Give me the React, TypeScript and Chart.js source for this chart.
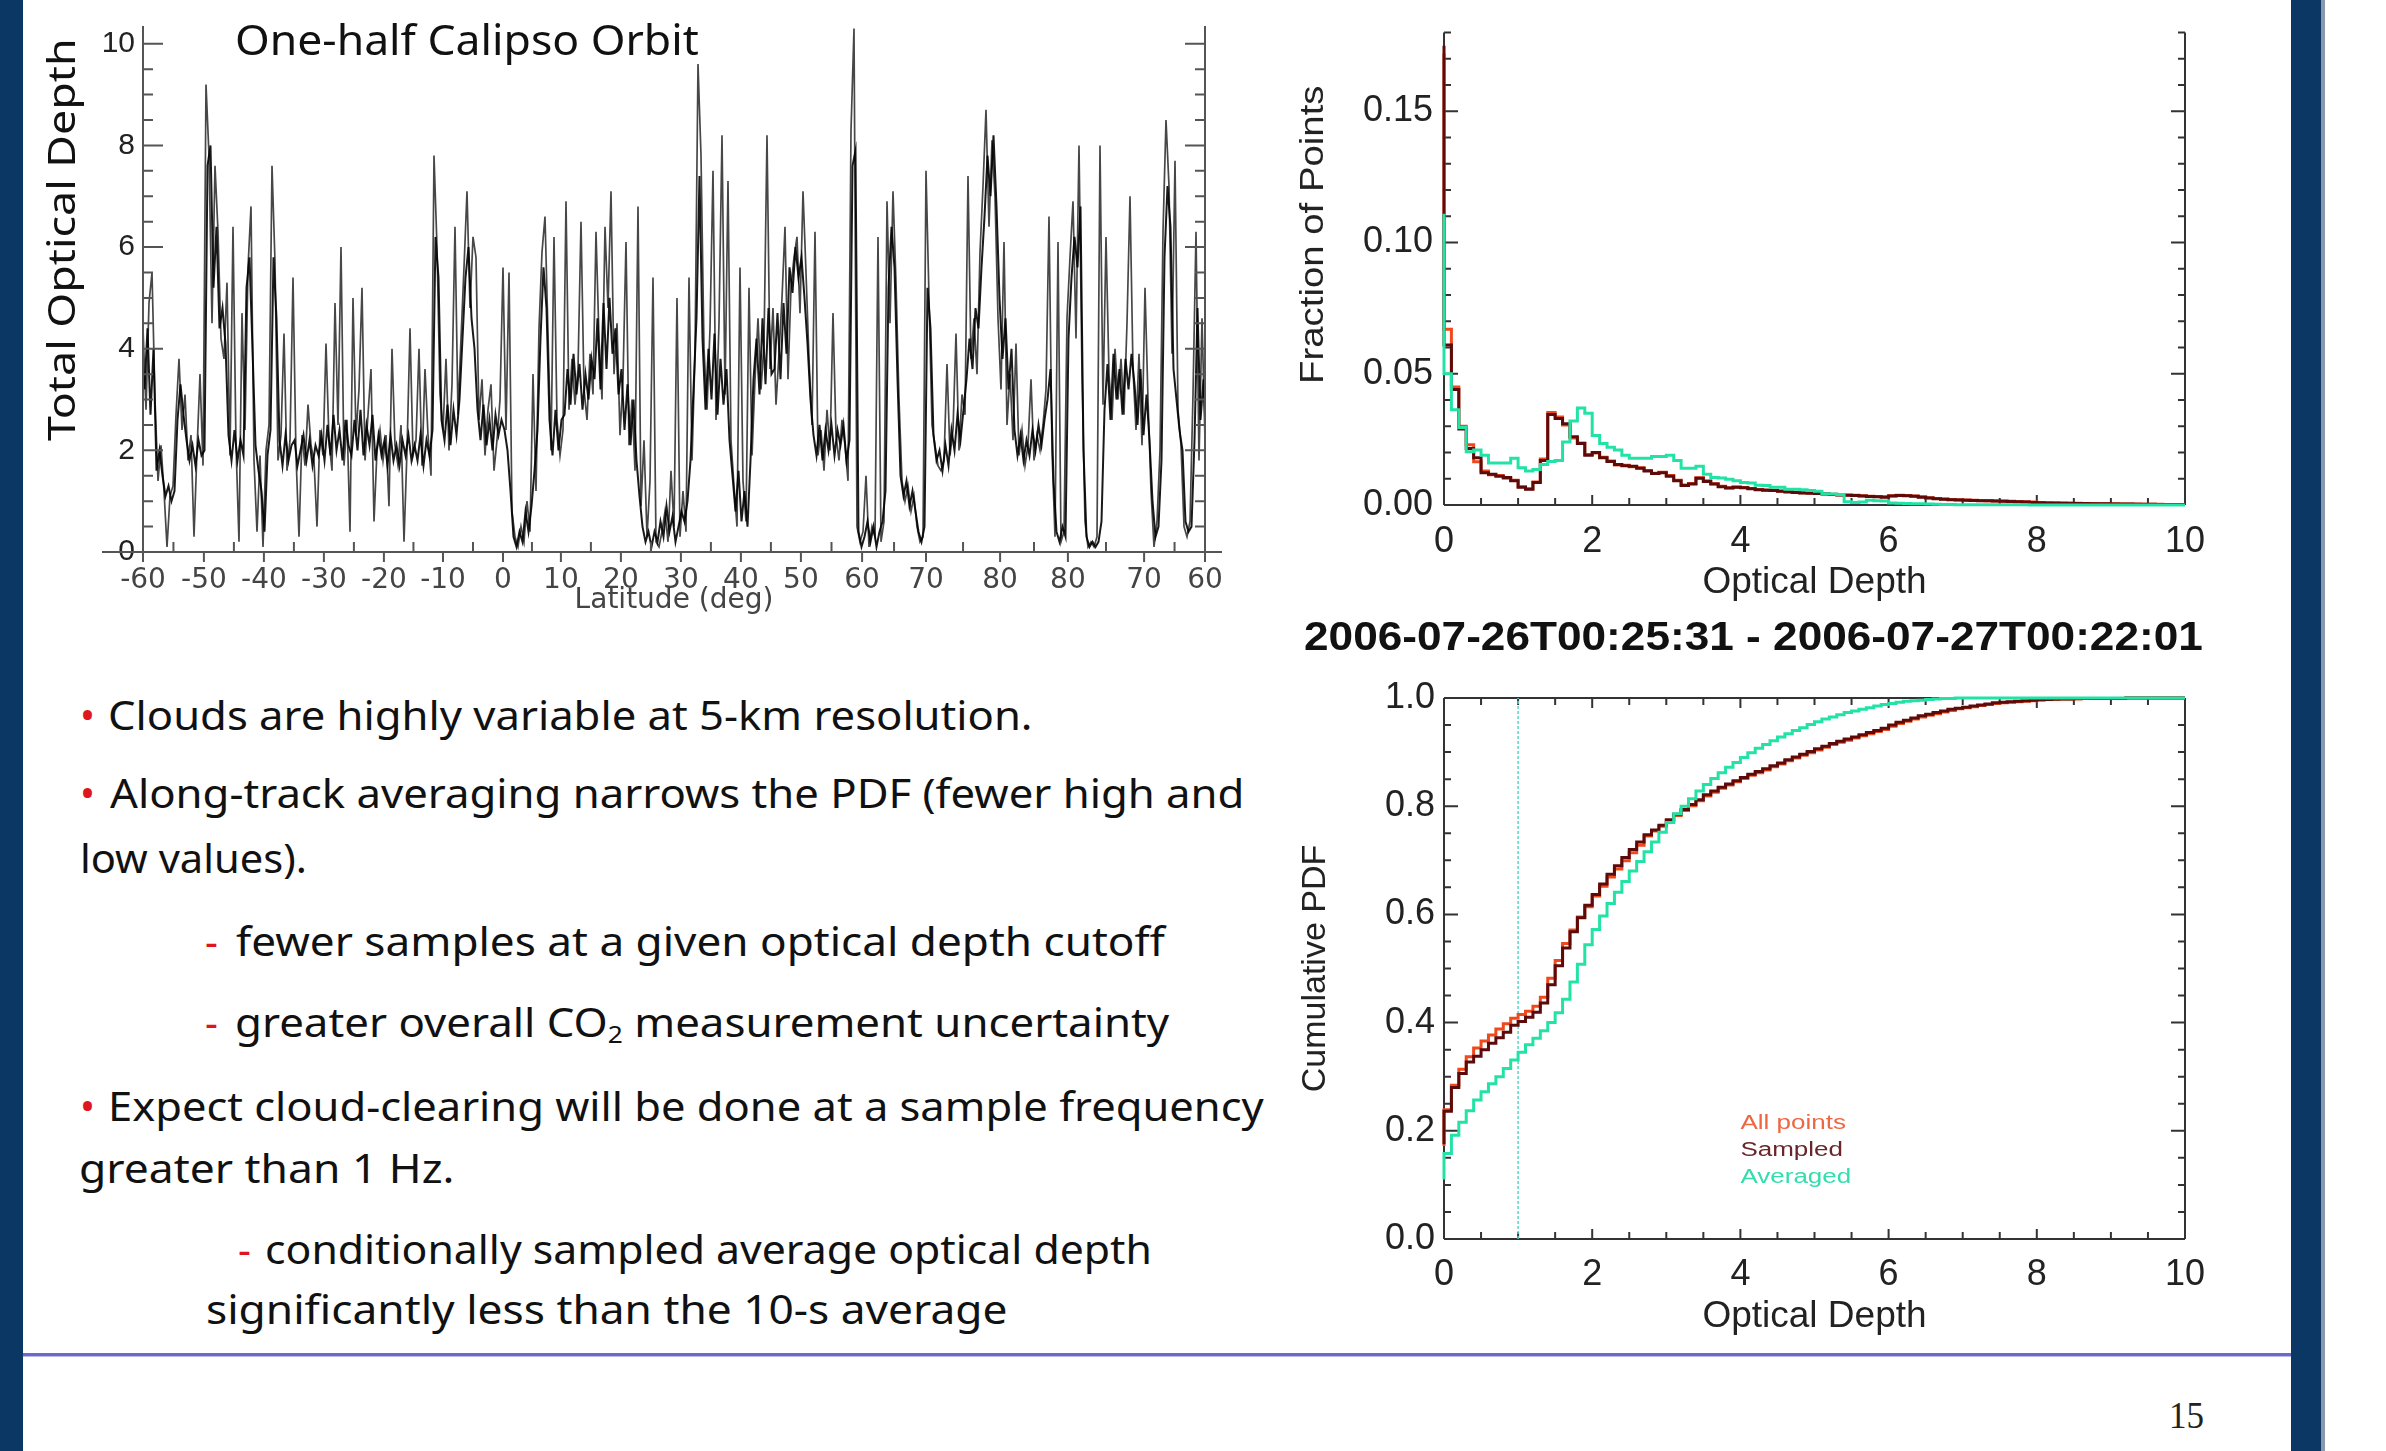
import React, { useEffect, useLayoutEffect, useRef, useState } from 'react';
import { Chart, registerables } from 'chart.js';

Chart.register(...registerables);

// ------------------------------------------------------------------ data
// Total optical depth along one-half CALIPSO orbit: excursions (spikes / dips), one value per along-track sample
const ORBIT_OD = [
  4.4, 2.8, 4.9, 5.5, 3.0, 1.4, 2.1, 1.2, 0.1, 1.1,
  1.3, 2.7, 3.8, 2.4, 3.1, 1.8, 2.3, 0.3, 2.0, 3.5,
  1.7, 9.2, 7.8, 4.5, 7.6, 6.3, 4.2, 3.8, 5.3, 1.9,
  6.4, 2.1, 0.2, 4.7, 2.4, 5.6, 6.8, 1.8, 0.4, 1.9,
  0.1, 2.0, 2.5, 7.6, 5.7, 1.8, 2.3, 4.3, 1.6, 2.2,
  5.4, 1.9, 0.3, 2.3, 1.7, 2.9, 2.1, 1.8, 0.5, 2.4,
  1.9, 4.1, 2.2, 1.6, 4.9, 2.5, 6.0, 1.7, 2.6, 0.4,
  5.0, 2.3, 3.2, 5.2, 1.8, 2.7, 3.6, 0.6, 2.0, 2.4,
  1.8, 2.3, 0.9, 4.0, 2.1, 1.7, 2.5, 0.2, 2.0, 4.4,
  1.9, 2.2, 4.0, 1.7, 3.6, 2.3, 1.5, 7.8, 6.0, 3.1,
  2.4, 3.8, 2.0, 3.3, 6.4, 2.7, 4.2, 5.6, 7.1, 4.8,
  6.2, 5.8, 2.6, 3.4, 1.9, 2.8, 3.3, 1.6, 2.2, 3.0,
  5.6, 2.4, 5.5, 0.8, 0.3, 0.1, 0.5, 0.2, 1.0, 0.4,
  3.5, 1.2, 4.4, 5.9, 6.6, 4.3, 2.0, 6.2, 2.6, 1.9,
  2.4, 6.9, 2.8, 3.8, 2.9, 3.6, 6.5, 3.2, 2.6, 3.9,
  3.1, 6.3, 4.2, 3.0, 6.4, 4.8, 7.1, 3.5, 4.5, 2.3,
  3.4, 6.1, 2.1, 3.0, 1.6, 6.8, 0.9, 2.2, 0.3, 1.4,
  5.4, 0.2, 0.1, 0.4, 0.8, 0.2, 1.6, 0.5, 5.0, 0.3,
  1.2, 0.4, 5.4, 1.8, 3.9, 9.6, 7.8, 4.0, 2.8, 4.4,
  7.5, 2.6, 4.5, 8.2, 3.1, 7.3, 2.2, 1.3, 0.5, 5.6,
  1.4, 0.6, 5.2, 1.9, 3.4, 4.6, 3.2, 4.1, 8.2, 3.6,
  4.8, 2.9, 3.9, 5.0, 6.4, 3.4, 5.2, 5.8, 6.2, 4.7,
  7.1, 5.5, 3.8, 2.5, 6.3, 1.9, 2.4, 1.6, 2.8, 2.0,
  4.7, 2.3, 1.8, 2.6, 2.1, 1.4, 8.3, 10.3, 0.5, 0.2,
  0.4, 1.5, 0.1, 0.5, 0.3, 6.2, 0.2, 0.6, 6.9, 4.5,
  7.1, 5.3, 3.0, 1.4, 1.0, 1.3, 0.8, 1.1, 0.5, 0.2,
  0.3, 7.5, 5.0, 2.5, 2.1, 1.7, 1.6, 1.8, 3.7, 1.9,
  2.4, 4.3, 2.0, 3.1, 2.7, 7.4, 3.8, 4.6, 3.5, 5.9,
  7.2, 8.7, 6.4, 8.1, 7.0, 4.6, 3.2, 6.1, 2.5, 3.5,
  2.2, 4.1, 1.9, 2.4, 1.7, 2.1, 3.4, 1.8, 2.3, 2.0,
  2.5, 3.2, 6.6, 2.0, 0.3, 6.1, 0.2, 0.4, 4.6, 5.8,
  6.9, 4.2, 8.0, 3.5, 0.6, 0.1, 0.2, 0.1, 0.3, 8.0,
  2.9, 6.2, 3.5, 2.6, 4.0, 3.0, 3.8, 2.7, 4.5, 7.0,
  3.6, 2.4, 3.9, 2.1, 5.2, 3.0, 1.2, 0.1, 0.6, 2.0,
  6.3, 8.5, 7.2, 3.9, 7.7, 2.8, 2.1, 0.5, 0.3, 0.6,
  3.1, 6.3, 1.8, 4.6, 2.2,
];
// the same orbit: dense core samples (taken half a sample later)
const CORE_OD = [
  3.2, 4.4, 2.7, 4.0, 1.6, 2.0, 1.5, 1.1, 1.3, 1.0,
  1.2, 2.6, 3.3, 2.7, 2.2, 1.8, 2.1, 1.7, 2.2, 1.9,
  2.0, 7.6, 8.0, 5.2, 6.4, 4.4, 4.8, 4.1, 2.3, 1.8,
  2.4, 1.8, 2.2, 1.9, 5.2, 5.8, 4.0, 2.1, 1.6, 1.2,
  0.4, 1.9, 2.4, 5.8, 4.6, 2.2, 1.7, 2.3, 1.8, 2.1,
  2.2, 1.7, 2.0, 2.3, 1.8, 2.2, 1.7, 2.1, 1.9, 2.3,
  1.8, 2.5, 1.9, 2.7, 2.0, 2.4, 1.8, 2.6, 2.1, 1.9,
  2.6, 2.0, 2.8, 1.9, 2.5, 2.1, 2.7, 1.8, 2.3, 1.9,
  2.2, 1.7, 2.3, 1.8, 2.1, 1.7, 2.2, 1.9, 2.3, 1.8,
  2.1, 1.8, 2.3, 1.7, 2.2, 1.9, 2.4, 6.2, 5.4, 2.6,
  2.2, 2.9, 2.1, 2.8, 2.3, 3.0, 4.2, 5.4, 6.0, 4.6,
  4.0, 2.8, 2.2, 2.9, 2.1, 2.6, 2.0, 2.7, 2.3, 2.6,
  2.4, 2.0, 1.2, 0.3, 0.1, 0.4, 0.2, 0.8, 0.4, 0.9,
  1.6, 2.4, 4.2, 5.6, 4.8, 2.6, 1.9, 2.8, 2.0, 2.6,
  2.7, 3.6, 2.9, 3.9, 3.1, 3.7, 2.8, 3.5, 3.0, 3.8,
  3.4, 4.6, 3.2, 4.9, 3.6, 5.0, 3.9, 4.4, 3.1, 3.6,
  2.4, 3.3, 2.1, 3.0, 1.8, 1.1, 0.5, 0.2, 0.4, 0.1,
  0.4, 0.2, 0.6, 0.3, 0.9, 0.4, 0.7, 0.2, 0.5, 0.8,
  0.6, 1.0, 1.8, 3.2, 4.6, 7.4, 4.2, 2.8, 4.0, 3.0,
  4.3, 2.7, 3.8, 2.9, 3.6, 2.2, 1.5, 0.8, 1.6, 0.6,
  1.2, 0.5, 1.8, 3.4, 4.2, 3.1, 4.6, 3.3, 4.8, 3.5,
  3.6, 4.7, 3.4, 4.9, 3.9, 5.6, 5.1, 6.0, 5.4, 5.8,
  5.0, 4.1, 3.0, 2.3, 1.9, 2.5, 1.8, 2.4, 2.0, 2.5,
  1.9, 2.4, 2.1, 2.5, 1.8, 2.2, 7.6, 7.9, 0.4, 0.1,
  0.3, 0.6, 0.2, 0.5, 0.1, 0.4, 0.6, 1.2, 5.2, 6.4,
  5.6, 3.4, 1.5, 1.1, 1.4, 0.9, 1.2, 0.8, 0.4, 0.2,
  0.5, 5.2, 4.4, 2.3, 1.8, 2.0, 1.6, 2.1, 1.7, 2.4,
  2.0, 2.7, 2.2, 2.8, 3.4, 4.2, 3.6, 4.8, 4.4, 5.6,
  6.6, 7.8, 7.0, 8.2, 6.8, 5.0, 3.8, 4.6, 3.2, 4.0,
  2.4, 1.9, 2.3, 1.8, 2.2, 1.9, 2.4, 2.0, 2.5, 2.1,
  2.6, 3.0, 3.6, 1.4, 0.4, 0.2, 0.5, 0.3, 4.2, 5.4,
  6.2, 5.6, 6.8, 2.0, 0.3, 0.1, 0.2, 0.1, 0.2, 0.6,
  2.8, 3.7, 2.6, 3.9, 3.0, 3.6, 2.7, 3.8, 3.2, 3.9,
  3.3, 2.5, 3.6, 2.3, 3.1, 2.2, 1.0, 0.3, 0.5, 1.8,
  5.8, 7.2, 6.4, 3.6, 3.0, 2.4, 2.0, 0.6, 0.4, 0.5,
  2.2, 4.8, 2.6, 3.4, 2.0,
];
const CORE_OFFSET = 0.5; // core samples sit half a sample after the excursion samples
// latitude tick labels and their along-track sample positions
const LAT_TICK_POS = [0, 20.3, 40.3, 60.3, 80.3, 100, 120, 139.3, 159.3, 179.3, 199.3, 219.3, 239.7, 261, 285.7, 308.3, 333.7, 354];
const LAT_TICK_LABELS = ['-60', '-50', '-40', '-30', '-20', '-10', '0', '10', '20', '30', '40', '50', '60', '70', '80', '80', '70', '60'];
const OD_TICKS = [0, 2, 4, 6, 8, 10];

// histograms (bin width 0.1 in optical depth, 0 .. 10)
const BIN = 0.1;
const DEPTH_MAX = 10;
const ALL_PDF = [
  0.172, 0.067, 0.045, 0.030, 0.023, 0.0165, 0.013, 0.0115, 0.0112, 0.0102,
  0.0094, 0.007, 0.0062, 0.0088, 0.0175, 0.0352, 0.0335, 0.0305, 0.0255, 0.0236,
  0.0192, 0.0198, 0.0182, 0.0168, 0.0152, 0.0151, 0.0146, 0.0142, 0.0131, 0.0121,
  0.0125, 0.0112, 0.0094, 0.0076, 0.0082, 0.0104, 0.0092, 0.0081, 0.0071, 0.0066,
  0.0069, 0.0067, 0.0063, 0.0059, 0.0057, 0.0056, 0.0053, 0.0051, 0.0049, 0.0047,
  0.0046, 0.0045, 0.0043, 0.0041, 0.0039, 0.0038, 0.0037, 0.0035, 0.0033, 0.0032,
  0.0031, 0.0035, 0.0037, 0.0036, 0.0034, 0.0031, 0.0028, 0.0025, 0.0023, 0.0021,
  0.002, 0.0019, 0.0018, 0.0017, 0.0016, 0.0015, 0.0015, 0.0014, 0.0013, 0.0012,
  0.0011, 0.001, 0.0009, 0.0008, 0.0008, 0.0007, 0.0007, 0.0006, 0.0006, 0.0005,
  0.0005, 0.0005, 0.0004, 0.0004, 0.0004, 0.0003, 0.0003, 0.0003, 0.0002, 0.0002,
];
const SAMPLED_PDF = [
  0.175, 0.061, 0.044, 0.029, 0.0215, 0.018, 0.0123, 0.0117, 0.011, 0.0105,
  0.0092, 0.0068, 0.006, 0.0086, 0.017, 0.0345, 0.033, 0.031, 0.026, 0.0234,
  0.019, 0.020, 0.018, 0.0166, 0.0154, 0.015, 0.0148, 0.014, 0.013, 0.012,
  0.0123, 0.011, 0.0092, 0.0074, 0.008, 0.0102, 0.009, 0.008, 0.007, 0.0065,
  0.0068, 0.0066, 0.0062, 0.0058, 0.0056, 0.0055, 0.0052, 0.005, 0.0048, 0.0046,
  0.0045, 0.0044, 0.0042, 0.004, 0.0038, 0.0037, 0.0036, 0.0034, 0.0032, 0.0031,
  0.003, 0.0034, 0.0036, 0.0035, 0.0033, 0.003, 0.0027, 0.0024, 0.0022, 0.002,
  0.0019, 0.0018, 0.0017, 0.0016, 0.0016, 0.0015, 0.0014, 0.0013, 0.0012, 0.0011,
  0.001, 0.0009, 0.0008, 0.0008, 0.0007, 0.0007, 0.0006, 0.0006, 0.0005, 0.0005,
  0.0005, 0.0004, 0.0004, 0.0004, 0.0003, 0.0003, 0.0003, 0.0002, 0.0002, 0.0002,
];
const AVERAGED_PDF = [
  0.111, 0.050, 0.0363, 0.0295, 0.0203, 0.021, 0.019, 0.016, 0.016, 0.016,
  0.0178, 0.0142, 0.013, 0.0135, 0.0154, 0.0166, 0.017, 0.024, 0.032, 0.037,
  0.035, 0.0265, 0.0234, 0.022, 0.021, 0.019, 0.0178, 0.0178, 0.0178, 0.0185,
  0.0185, 0.019, 0.017, 0.014, 0.014, 0.0148, 0.0117, 0.0105, 0.0103, 0.0098,
  0.0092, 0.0086, 0.0084, 0.0075, 0.0074, 0.0068, 0.0068, 0.006, 0.006, 0.0058,
  0.0055, 0.0052, 0.0043, 0.0042, 0.004, 0.0012, 0.001, 0.0011, 0.0018, 0.0016,
  0.0015, 0.0008, 0.0007, 0.0006, 0.0005, 0.0005, 0.0004, 0.0003, 0.0002, 0.0002,
  0.0001, 0.0001, 0.0001, 0.0001, 0.0001, 0.0001, 0.0001, 0.0001, 0.0001, 0.0001,
  0, 0, 0, 0, 0, 0, 0, 0, 0, 0,
  0, 0, 0, 0, 0, 0, 0, 0, 0, 0,
];
// cumulative PDFs (same bins)
const ALL_CDF = [
  0.172, 0.239, 0.284, 0.314, 0.337, 0.353, 0.366, 0.377, 0.388, 0.398,
  0.408, 0.415, 0.421, 0.43, 0.447, 0.482, 0.515, 0.546, 0.571, 0.595,
  0.614, 0.634, 0.652, 0.669, 0.684, 0.699, 0.714, 0.728, 0.745, 0.754,
  0.763, 0.773, 0.783, 0.792, 0.801, 0.81, 0.819, 0.826, 0.833, 0.839,
  0.845, 0.851, 0.857, 0.862, 0.867, 0.873, 0.878, 0.884, 0.889, 0.894,
  0.899, 0.904, 0.909, 0.914, 0.918, 0.922, 0.926, 0.93, 0.934, 0.938,
  0.942, 0.948, 0.953, 0.957, 0.961, 0.965, 0.968, 0.971, 0.974, 0.977,
  0.98, 0.982, 0.984, 0.986, 0.988, 0.99, 0.991, 0.992, 0.993, 0.994,
  0.995, 0.996, 0.997, 0.997, 0.998, 0.998, 0.998, 0.999, 0.999, 0.999,
  0.999, 0.999, 0.999, 1, 1, 1, 1, 1, 1, 1,
];
const SAMPLED_CDF = [
  0.175, 0.236, 0.28, 0.306, 0.327, 0.338, 0.35, 0.362, 0.372, 0.382,
  0.395, 0.402, 0.41, 0.419, 0.436, 0.47, 0.505, 0.538, 0.568, 0.594,
  0.617, 0.637, 0.656, 0.674, 0.69, 0.705, 0.72, 0.734, 0.747, 0.756,
  0.765, 0.775, 0.785, 0.794, 0.803, 0.812, 0.821, 0.828, 0.835, 0.841,
  0.847, 0.853, 0.859, 0.864, 0.869, 0.875, 0.88, 0.886, 0.891, 0.896,
  0.901, 0.906, 0.911, 0.916, 0.92, 0.924, 0.928, 0.932, 0.936, 0.94,
  0.944, 0.95, 0.955, 0.959, 0.963, 0.967, 0.97, 0.973, 0.976, 0.979,
  0.981, 0.983, 0.985, 0.987, 0.989, 0.991, 0.992, 0.993, 0.994, 0.995,
  0.996, 0.997, 0.997, 0.998, 0.998, 0.998, 0.999, 0.999, 0.999, 0.999,
  0.999, 0.999, 0.999, 1, 1, 1, 1, 1, 1, 1,
];
const AVERAGED_CDF = [
  0.11, 0.158, 0.192, 0.216, 0.237, 0.257, 0.272, 0.287, 0.3, 0.315,
  0.331, 0.345, 0.359, 0.371, 0.385, 0.4, 0.418, 0.443, 0.475, 0.508,
  0.544, 0.572, 0.597, 0.62, 0.641, 0.661, 0.68, 0.698, 0.716, 0.734,
  0.752, 0.77, 0.786, 0.8, 0.814, 0.828, 0.84, 0.851, 0.862, 0.872,
  0.881, 0.89, 0.899, 0.907, 0.914, 0.921, 0.928, 0.934, 0.94, 0.945,
  0.951, 0.956, 0.961, 0.965, 0.969, 0.973, 0.976, 0.979, 0.982, 0.985,
  0.988, 0.99, 0.992, 0.994, 0.995, 0.996, 0.997, 0.998, 0.999, 0.999,
  1, 1, 1, 1, 1, 1, 1, 1, 1, 1,
  1, 1, 1, 1, 1, 1, 1, 1, 1, 1,
  1, 1, 1, 1, 1, 1, 1, 1, 1, 1,
];
const CUTOFF_DEPTH = 1.0;
const DEPTH_TICKS = [0, 2, 4, 6, 8, 10];
const PDF_TICKS = [0, 0.05, 0.1, 0.15];
const CDF_TICKS = [0, 0.2, 0.4, 0.6, 0.8, 1.0];
const SERIES_LABELS = ['All points', 'Sampled', 'Averaged'];
const LINE_COLORS = ['#f04a1c', '#5c0a0a', '#22e3a5'];
const LEGEND_COLORS = ['#ee6642', '#6a262b', '#33deac'];
const DATE_RANGE = '2006-07-26T00:25:31 - 2006-07-27T00:22:01';

// ------------------------------------------------------------------ fonts / helpers
const SANS = '"Liberation Sans", Arial, Helvetica, sans-serif';
const DEJAVU = '"DejaVu Sans", sans-serif';
const SLIDE = '"Comic Sans MS", "Noto Sans", sans-serif';
const SERIF = '"Liberation Serif", "Times New Roman", serif';

const range = (a: number, b: number, s: number) => {
  const out: number[] = [];
  for (let v = a; v <= b + 1e-9; v += s) out.push(+v.toFixed(4));
  return out;
};
const midpoints = (arr: number[]) => arr.slice(1).map((v, i) => (v + arr[i]) / 2);
const toSteps = (vals: number[]) => [
  ...vals.map((v, i) => ({ x: +(i * BIN).toFixed(2), y: v })),
  { x: DEPTH_MAX, y: vals[vals.length - 1] },
];

// ------------------------------------------------------------------ plugins
function makeFrame(o: any) {
  const draw = (chart: any) => {
    const { ctx, chartArea: a, scales } = chart;
    const xs = scales.x, ys = scales.y;
    ctx.save();
    ctx.strokeStyle = o.color;
    ctx.lineWidth = o.width;
    ctx.beginPath();
    ctx.moveTo(a.left - (o.extL || 0), a.bottom);
    ctx.lineTo(a.right + (o.extR || 0), a.bottom);
    ctx.moveTo(a.left, a.bottom);
    ctx.lineTo(a.left, a.top);
    ctx.moveTo(a.right, a.bottom);
    ctx.lineTo(a.right, a.top);
    if (o.top) {
      ctx.moveTo(a.left, a.top);
      ctx.lineTo(a.right, a.top);
    }
    const yt = (vals: number[], len: number) =>
      vals.forEach((v) => {
        const p = ys.getPixelForValue(v);
        ctx.moveTo(a.left, p); ctx.lineTo(a.left + len, p);
        ctx.moveTo(a.right, p); ctx.lineTo(a.right - len, p);
      });
    const xt = (vals: number[], len: number, out: boolean) =>
      vals.forEach((v) => {
        const p = xs.getPixelForValue(v);
        ctx.moveTo(p, a.bottom); ctx.lineTo(p, out ? a.bottom + len : a.bottom - len);
        if (o.top) { ctx.moveTo(p, a.top); ctx.lineTo(p, a.top + len); }
      });
    yt(o.yMinor, o.minorLen);
    yt(o.yMajor, o.majorLen);
    xt(o.xMinor, o.minorLen, false);
    xt(o.xMajor, o.xMajorLen ?? o.majorLen, !!o.xMajorOut);
    ctx.stroke();
    ctx.restore();
  };
  return {
    id: 'frame',
    beforeDatasetsDraw(chart: any) { if (o.under) draw(chart); },
    afterDatasetsDraw(chart: any) { if (!o.under) draw(chart); },
  };
}

function makeTextLegend(o: any) {
  return {
    id: 'textLegend',
    afterDatasetsDraw(chart: any) {
      const { ctx, scales } = chart;
      const x = scales.x.getPixelForValue(o.x);
      const y = scales.y.getPixelForValue(o.y);
      ctx.save();
      ctx.font = o.font;
      ctx.textBaseline = 'middle';
      ctx.textAlign = 'left';
      o.labels.forEach((t: string, i: number) => {
        ctx.save();
        ctx.translate(x, y + i * o.gap);
        ctx.scale(o.sx, 1);
        ctx.fillStyle = o.colors[i];
        ctx.fillText(t, 0, 0);
        ctx.restore();
      });
      ctx.restore();
    },
  };
}

const fixTicks = (vals: number[]) => (s: any) => {
  s.ticks = vals.map((v) => ({ value: v }));
};

// ------------------------------------------------------------------ chart configs
const leftConfig = () => ({
  type: 'line',
  data: {
    datasets: [
      {
        label: 'Total Optical Depth',
        data: ORBIT_OD.map((v, i) => ({ x: i, y: v })),
        borderColor: 'rgba(0,0,0,0.72)',
        borderWidth: 1.7,
        pointRadius: 0,
        tension: 0,
        fill: false,
        order: 1,
      },
      {
        label: 'Total Optical Depth (core)',
        data: CORE_OD.map((v, i) => ({ x: i + CORE_OFFSET, y: v })),
        borderColor: 'rgba(0,0,0,0.9)',
        borderWidth: 2,
        pointRadius: 0,
        tension: 0,
        fill: false,
        order: 0,
      },
    ],
  },
  options: {
    animation: false, responsive: false, maintainAspectRatio: false, events: [],
    layout: { padding: { top: 16, right: 35, left: 0, bottom: 0 } },
    plugins: { legend: { display: false }, tooltip: { enabled: false } },
    scales: {
      x: {
        type: 'linear', min: 0, max: ORBIT_OD.length - 1,
        grid: { display: false, drawTicks: false }, border: { display: false },
        afterBuildTicks: fixTicks(LAT_TICK_POS),
        afterFit: (s: any) => { s.height = 88; },
        ticks: {
          autoSkip: false, maxRotation: 0, minRotation: 0, padding: 12, color: '#444',
          font: { family: DEJAVU, size: 28 },
          callback: (_v: any, i: number) => LAT_TICK_LABELS[i],
        },
        title: {
          display: true, text: 'Latitude (deg)', color: '#444',
          font: { family: DEJAVU, size: 28, lineHeight: 1 }, padding: { top: 0, bottom: 25 },
        },
      },
      y: {
        min: 0, max: 10.35,
        grid: { display: false, drawTicks: false }, border: { display: false },
        afterBuildTicks: fixTicks(OD_TICKS),
        afterFit: (s: any) => { s.width = 103; },
        ticks: { padding: 8, color: '#222', font: { family: SANS, size: 30 } },
      },
    },
  },
  plugins: [makeFrame({
    color: '#555', width: 2, extL: 41, extR: 17,
    yMajor: OD_TICKS, yMinor: range(0, 10, 0.5), majorLen: 20, minorLen: 10,
    xMajor: LAT_TICK_POS, xMinor: midpoints(LAT_TICK_POS), xMajorLen: 10, xMajorOut: true,
  })],
});

const stepDataset = (label: string, vals: number[], color: string, order: number) => ({
  label, data: toSteps(vals), borderColor: color, borderWidth: 3, pointRadius: 0,
  stepped: 'after', fill: false, order, clip: 4,
});

const rightScales = (yMax: number, yTicks: number[], yDigits: number, yTitle: string | null, xH: number, tickPad: number, titlePad: number, yPad: number) => ({
  x: {
    type: 'linear', min: 0, max: DEPTH_MAX,
    grid: { display: false, drawTicks: false }, border: { display: false },
    afterBuildTicks: fixTicks(DEPTH_TICKS),
    afterFit: (s: any) => { s.height = xH; },
    ticks: { autoSkip: false, maxRotation: 0, padding: tickPad, color: '#222', font: { family: SANS, size: 36 } },
    title: {
      display: true, text: 'Optical Depth', color: '#222',
      font: { family: SANS, size: 37 }, padding: { top: 0, bottom: titlePad },
    },
  },
  y: {
    min: 0, max: yMax,
    grid: { display: false, drawTicks: false }, border: { display: false },
    afterBuildTicks: fixTicks(yTicks),
    afterFit: (s: any) => { s.width = 164; },
    ticks: {
      padding: yPad, color: '#222', font: { family: SANS, size: 36 },
      callback: (v: any) => Number(v).toFixed(yDigits),
    },
    title: {
      display: !!yTitle, text: yTitle || '', color: '#222',
      font: { family: SANS, size: 34 }, padding: { top: 15, bottom: 0 },
    },
  },
});

const histConfig = () => ({
  type: 'line',
  data: {
    datasets: [
      stepDataset(SERIES_LABELS[0], ALL_PDF, LINE_COLORS[0], 3),
      stepDataset(SERIES_LABELS[1], SAMPLED_PDF, LINE_COLORS[1], 2),
      stepDataset(SERIES_LABELS[2], AVERAGED_PDF, LINE_COLORS[2], 1),
    ],
  },
  options: {
    animation: false, responsive: false, maintainAspectRatio: false, events: [],
    layout: { padding: { top: 18, right: 55, left: 0, bottom: 0 } },
    plugins: { legend: { display: false }, tooltip: { enabled: false } },
    scales: rightScales(0.18, PDF_TICKS, 2, null, 105, 15, 5, 11),
  },
  plugins: [makeFrame({
    color: '#333', width: 2, under: true,
    yMajor: PDF_TICKS, yMinor: range(0, 0.18, 0.01), majorLen: 14, minorLen: 7,
    xMajor: DEPTH_TICKS, xMinor: range(0, 10, 0.5), xMajorLen: 10,
  })],
});

const cdfConfig = () => ({
  type: 'line',
  data: {
    datasets: [
      stepDataset(SERIES_LABELS[0], ALL_CDF, LINE_COLORS[0], 3),
      stepDataset(SERIES_LABELS[1], SAMPLED_CDF, LINE_COLORS[1], 2),
      stepDataset(SERIES_LABELS[2], AVERAGED_CDF, LINE_COLORS[2], 1),
      {
        label: 'cutoff', data: [{ x: CUTOFF_DEPTH, y: 0 }, { x: CUTOFF_DEPTH, y: 1 }],
        borderColor: '#5fd3c6', borderWidth: 1.5, borderDash: [3, 2], pointRadius: 0, order: 4,
      },
    ],
  },
  options: {
    animation: false, responsive: false, maintainAspectRatio: false, events: [],
    layout: { padding: { top: 48, right: 55, left: 0, bottom: 0 } },
    plugins: { legend: { display: false }, tooltip: { enabled: false } },
    scales: rightScales(1, CDF_TICKS, 1, 'Cumulative PDF', 101, 14, 1, 9),
  },
  plugins: [
    makeFrame({
      color: '#333', width: 2, top: true, under: true,
      yMajor: CDF_TICKS, yMinor: range(0, 1, 0.05), majorLen: 14, minorLen: 7,
      xMajor: DEPTH_TICKS, xMinor: range(0, 10, 0.5), xMajorLen: 10,
    }),
    makeTextLegend({
      x: 4.0, y: 0.214, gap: 27, sx: 1.3, font: `20px ${SANS}`,
      labels: SERIES_LABELS, colors: LEGEND_COLORS,
    }),
  ],
});

// ------------------------------------------------------------------ components
function ChartBox({ left, top, width, height, make }: { left: number; top: number; width: number; height: number; make: () => any }) {
  const ref = useRef<HTMLCanvasElement>(null);
  useEffect(() => {
    if (!ref.current) return;
    const chart = new Chart(ref.current, make());
    return () => chart.destroy();
  }, []);
  return (
    <canvas ref={ref} width={width} height={height}
      style={{ position: 'absolute', left, top, width, height }} />
  );
}

type FitProps = {
  x: number; y: number; width?: number; size: number; family: string;
  weight?: number; color?: string; rotate?: boolean; children: React.ReactNode;
};
function FitText({ x, y, width, size, family, weight = 400, color = '#111', rotate = false, children }: FitProps) {
  const ref = useRef<HTMLSpanElement>(null);
  const [m, setM] = useState({ sx: 1, asc: size * 0.9 });
  useLayoutEffect(() => {
    let alive = true;
    const measure = () => {
      const el = ref.current;
      if (!el || !alive) return;
      let asc = size * 0.9;
      const c = document.createElement('canvas').getContext('2d');
      if (c) {
        c.font = `${weight} ${size}px ${family}`;
        const tm = c.measureText('Hg');
        if (tm.fontBoundingBoxAscent) asc = tm.fontBoundingBoxAscent;
      }
      const w = el.offsetWidth;
      setM({ sx: width && w > 0 ? width / w : 1, asc });
    };
    measure();
    const f = (document as any).fonts;
    if (f && f.ready) f.ready.then(measure);
    return () => { alive = false; };
  }, [width, size, family, weight]);
  const span = (
    <span ref={ref} style={{
      display: 'inline-block', whiteSpace: 'nowrap', fontFamily: family, fontSize: size,
      fontWeight: weight, lineHeight: 'normal', color, transform: `scaleX(${m.sx})`, transformOrigin: '0 0',
    }}>{children}</span>
  );
  if (rotate) {
    return (
      <div style={{ position: 'absolute', left: x - m.asc, top: y, transformOrigin: '0 0', transform: 'rotate(-90deg)', whiteSpace: 'nowrap' }}>
        {span}
      </div>
    );
  }
  return <div style={{ position: 'absolute', left: x, top: y - m.asc, whiteSpace: 'nowrap' }}>{span}</div>;
}

const RED = '#e0161f';
type Line = { mark?: string; markX?: number; x: number; baseline: number; width: number; content: React.ReactNode };
const LINES: Line[] = [
  { mark: '•', markX: 80, x: 108, baseline: 730, width: 924, content: 'Clouds are highly variable at 5-km resolution.' },
  { mark: '•', markX: 80, x: 110, baseline: 808, width: 1134, content: 'Along-track averaging narrows the PDF (fewer high and' },
  { x: 80, baseline: 873, width: 227, content: 'low values).' },
  { mark: '-', markX: 205, x: 236, baseline: 956, width: 929, content: 'fewer samples at a given optical depth cutoff' },
  {
    mark: '-', markX: 205, x: 235, baseline: 1037, width: 934,
    content: <>greater overall CO<sub style={{ fontSize: '0.6em', verticalAlign: '-0.25em' }}>2</sub> measurement uncertainty</>,
  },
  { mark: '•', markX: 80, x: 108, baseline: 1121, width: 1156, content: 'Expect cloud-clearing will be done at a sample frequency' },
  { x: 79, baseline: 1183, width: 375, content: 'greater than 1 Hz.' },
  { mark: '-', markX: 238, x: 265, baseline: 1264, width: 887, content: 'conditionally sampled average optical depth' },
  { x: 206, baseline: 1324, width: 801, content: 'significantly less than the 10-s average' },
];

export default function App() {
  const NAVY = '#0a3764';
  return (
    <div style={{ position: 'fixed', left: 0, top: 0, width: 2386, height: 1451, background: '#fff', overflow: 'hidden' }}>
      {/* slide frame */}
      <div style={{ position: 'absolute', left: 0, top: 0, width: 23, height: 1451, background: NAVY }} />
      <div style={{ position: 'absolute', left: 2291, top: 0, width: 30, height: 1451, background: NAVY }} />
      <div style={{ position: 'absolute', left: 2321, top: 0, width: 4, height: 1451, background: '#8b97ab' }} />
      <div style={{ position: 'absolute', left: 23, top: 1353, width: 2268, height: 3, background: '#6a6acd' }} />
      <div style={{ position: 'absolute', left: 23, top: 1356, width: 2268, height: 1, background: '#b9b9ea' }} />

      {/* charts */}
      <ChartBox left={40} top={0} width={1200} height={640} make={leftConfig} />
      <ChartBox left={1280} top={0} width={960} height={610} make={histConfig} />
      <ChartBox left={1280} top={650} width={960} height={690} make={cdfConfig} />

      {/* left chart slide annotations */}
      <FitText x={235} y={55} width={464} size={42} family={SLIDE}>One-half Calipso Orbit</FitText>
      <FitText x={75} y={441} width={403} size={38} family={SLIDE} rotate>Total Optical Depth</FitText>

      {/* histogram y title */}
      <FitText x={1323} y={384} width={299} size={34} family={SANS} color="#222" rotate>Fraction of Points</FitText>

      {/* date range */}
      <FitText x={1304} y={650} width={899} size={40} weight={700} family={SANS}>{DATE_RANGE}</FitText>

      {/* bullet text */}
      {LINES.map((l, i) => (
        <React.Fragment key={i}>
          {l.mark && (
            <FitText x={l.markX as number} y={l.baseline} size={40} family={SLIDE} color={RED}>{l.mark}</FitText>
          )}
          <FitText x={l.x} y={l.baseline} width={l.width} size={40} family={SLIDE}>{l.content}</FitText>
        </React.Fragment>
      ))}

      {/* page number */}
      <FitText x={2169} y={1427} width={35} size={38} family={SERIF} color="#222">15</FitText>
    </div>
  );
}
